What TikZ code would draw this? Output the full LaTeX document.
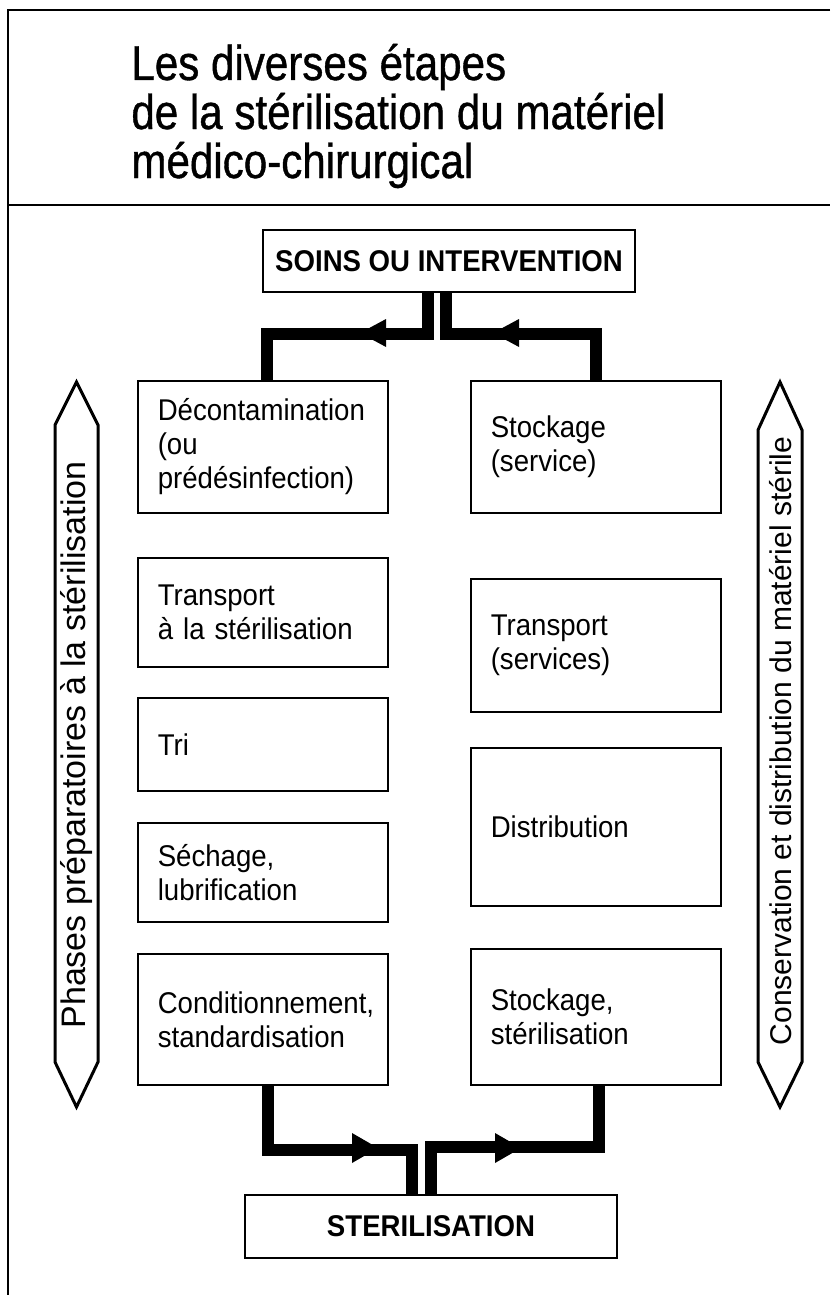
\documentclass[tikz,border=0pt]{standalone}
\usepackage{fontspec}
\setmainfont{Liberation Sans}
\newfontfamily\titlefam[FakeStretch=0.86,FakeBold=0.8]{Liberation Sans}
\newfontfamily\bodyfam[FakeStretch=0.92]{Liberation Sans}
\newcommand\titlefnt{\titlefam\fontsize{24.5}{24.5}\selectfont}
\newcommand\bodyfnt{\bodyfam\fontsize{15}{17}\selectfont}
\newcommand\capfnt{\bodyfam\fontsize{15}{17}\selectfont\bfseries}
\newcommand\lsidefnt{\fontsize{17}{19}\selectfont}
\newcommand\rsidefnt{\fontsize{15}{17}\selectfont}
\begin{document}
\begin{tikzpicture}[x=0.5pt,y=-0.5pt,
  box/.style={draw, line width=0.8pt, anchor=north west, minimum width=125pt, text width=105pt, inner xsep=10pt, inner ysep=0pt, align=left, font=\bodyfnt},
  capbox/.style={draw, line width=0.8pt, minimum width=186pt, inner sep=0pt, font=\capfnt},
  band/.style={line width=6pt, line join=miter, black},
  head/.style={fill=black},
  sidearrow/.style={draw, line width=1.5pt, line join=miter},
  sidetext/.style={rotate=90, inner sep=0pt},
  titletext/.style={anchor=base west, font=\titlefnt, inner sep=0pt},
  frame/.style={line width=1pt}]
\useasboundingbox (0,0) rectangle (830,1295);

% frame
\draw[frame] (830,10) -- (8,10) -- (8,1295);
\draw[frame] (8,205) -- (830,205);

% title
\node[titletext] (t1) at (131,80) {Les diverses étapes};
\node[titletext] (t2) at (131,129) {de la stérilisation du matériel};
\node[titletext] (t3) at (131,178) {médico-chirurgical};

% top and bottom boxes
\node[capbox, minimum height=31pt] (soins) at (449,261) {SOINS OU INTERVENTION};
\node[capbox, minimum height=31.5pt] (steril) at (431,1226.5) {STERILISATION};

% left column
\node[box, minimum height=66pt] (deco) at (137,380) {Décontamination\\(ou\\prédésinfection)};
\node[box, minimum height=54.5pt] (tl) at (137,557) {Transport\\à la stérilisation};
\node[box, minimum height=46.5pt] (tri) at (137,697) {Tri};
\node[box, minimum height=49.5pt] (sech) at (137,822) {Séchage,\\lubrification};
\node[box, minimum height=65.5pt] (cond) at (137,953) {Conditionnement,\\standardisation};

% right column
\node[box, minimum height=66pt] (stk) at (470,380) {Stockage\\(service)};
\node[box, minimum height=66.5pt] (trs) at (470,578) {Transport\\(services)};
\node[box, minimum height=79pt] (dist) at (470,747) {Distribution};
\node[box, minimum height=68pt] (stst) at (470,948) {Stockage,\\stérilisation};

% thick connectors
\draw[band] ([xshift=-10.5pt]soins.south) -- ++(0,41) -| ([xshift=2pt]deco.north);
\draw[band] ([xshift=-1.5pt]soins.south) -- ++(0,41) -| (stk.north);
\draw[band] ([xshift=2.5pt]cond.south) -- ++(0,64) -| ([xshift=-9.5pt]steril.north);
\draw[band] (steril.north) -- ++(0,-47) -| ([xshift=1.5pt]stst.south);

% arrow heads on the connectors
\fill[head] (360,333) -- (386,319) -- (386,347) -- cycle;
\fill[head] (493,333) -- (519,319) -- (519,347) -- cycle;
\fill[head] (378,1148) -- (352,1133) -- (352,1163) -- cycle;
\fill[head] (521,1148) -- (495,1133) -- (495,1163) -- cycle;

% side double arrows
\draw[sidearrow] (55,425) -- (76.5,382) -- (98,425) -- (98,1062) -- (76.5,1107) -- (55,1062) -- cycle;
\draw[sidearrow] (758,430) -- (780,382) -- (802,430) -- (802,1062) -- (780,1107) -- (758,1062) -- cycle;
\node[sidetext, font=\lsidefnt] (ltxt) at (77,745) {Phases préparatoires à la stérilisation};
\node[sidetext, font=\rsidefnt] (rtxt) at (781,741) {Conservation et distribution du matériel stérile};
\end{tikzpicture}
\end{document}
